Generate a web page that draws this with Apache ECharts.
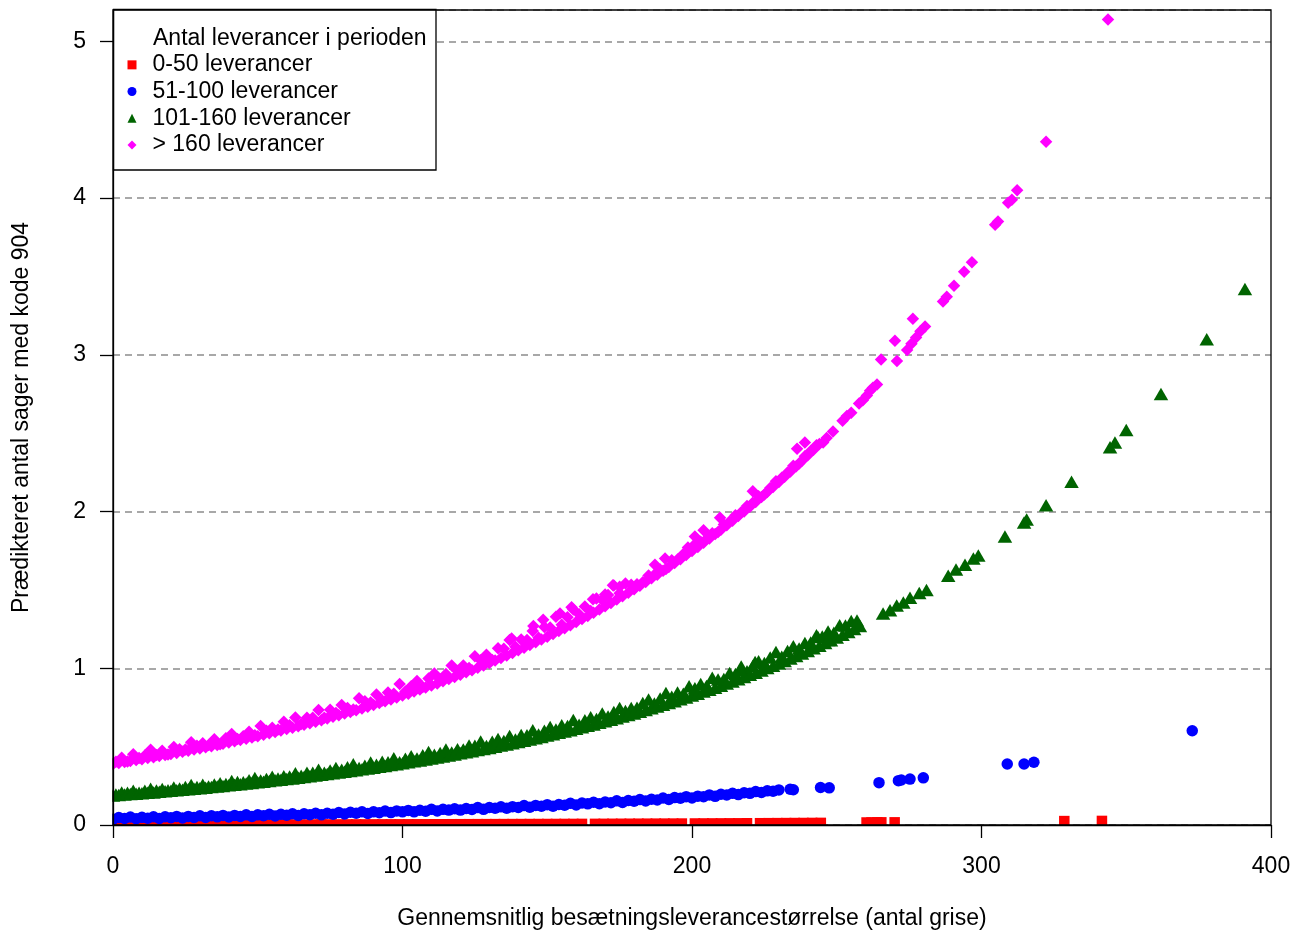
<!DOCTYPE html>
<html>
<head>
<meta charset="utf-8">
<title>Prædikteret antal sager med kode 904</title>
<script src="https://cdn.jsdelivr.net/npm/echarts@6/dist/echarts.min.js"></script>
<style>
  html, body { margin: 0; padding: 0; background: #fff; }
  #chart { width: 1303px; height: 930px; }
</style>
</head>
<body>
<div id="chart"></div>
<script>
// Predicted number of code-904 cases against mean herd delivery size,
// one point per herd, grouped by number of deliveries in the period.

const xTicks = [0, 100, 200, 300, 400];
const yTicks = [0, 1, 2, 3, 4, 5];

const seriesNames = ['0-50 leverancer', '51-100 leverancer', '101-160 leverancer', '> 160 leverancer'];
const legendTitle = 'Antal leverancer i perioden';
const xTitle = 'Gennemsnitlig besætningsleverancestørrelse (antal grise)';
const yTitle = 'Prædikteret antal sager med kode 904';

// 0-50 deliveries: [mean delivery size, predicted cases]
const redBand = [[0,0.0020],[3,0.0020],[6,0.0021],[9,0.0021],[12,0.0022],[15,0.0022],[18,0.0023],[21,0.0024],[24,0.0024],[27,0.0025],[30,0.0025],[33,0.0026],[36,0.0026],[39,0.0027],[42,0.0028],[45,0.0028],[48,0.0029],[51,0.0030],[54,0.0030],[57,0.0031],[60,0.0032],[63,0.0033],[66,0.0034],[69,0.0034],[72,0.0035],[75,0.0036],[78,0.0037],[81,0.0038],[84,0.0038],[87,0.0039],[90,0.0040],[93,0.0041],[96,0.0042],[99,0.0043],[102,0.0044],[105,0.0045],[108,0.0046],[111,0.0048],[114,0.0049],[117,0.0050],[120,0.0051],[123,0.0052],[126,0.0054],[129,0.0055],[132,0.0056],[135,0.0058],[138,0.0059],[141,0.0060],[144,0.0062],[147,0.0063],[150,0.0064],[153,0.0066],[156,0.0068],[159,0.0069],[162,0.0071],[166.5,0.0073],[169.5,0.0075],[172.5,0.0077],[175.5,0.0079],[178.5,0.0081],[181.5,0.0083],[184.5,0.0085],[187.5,0.0087],[190.5,0.0089],[193.5,0.0091],[196.5,0.0093],[201,0.0097],[204,0.0099],[207,0.0101],[210,0.0103],[213,0.0106],[216,0.0108],[219,0.0111],[223.5,0.0114],[226.5,0.0117],[229.5,0.0120],[232.5,0.0123],[235.5,0.0126],[238.5,0.0129],[241.5,0.0132],[244.5,0.0135]];
const redScatter = [[260.3,0.016],[262,0.016],[264,0.017],[265.4,0.017],[270,0.017],[328.6,0.025],[341.6,0.026]];

// 51-100 deliveries
const blueBand = [[0,0.037],[2,0.048],[4,0.042],[6,0.051],[8,0.040],[10,0.049],[12,0.043],[14,0.053],[16,0.042],[18,0.053],[20,0.046],[22,0.055],[24,0.045],[26,0.055],[28,0.048],[30,0.059],[32,0.048],[34,0.059],[36,0.052],[38,0.061],[40,0.051],[42,0.061],[44,0.055],[46,0.065],[48,0.054],[50,0.065],[52,0.059],[54,0.068],[56,0.058],[58,0.068],[60,0.062],[62,0.072],[64,0.061],[66,0.072],[68,0.066],[70,0.075],[72,0.065],[74,0.075],[76,0.069],[78,0.080],[80,0.070],[82,0.081],[84,0.075],[86,0.084],[88,0.074],[90,0.084],[92,0.078],[94,0.089],[96,0.079],[98,0.090],[100,0.084],[102,0.093],[104,0.084],[106,0.094],[108,0.088],[110,0.100],[112,0.089],[114,0.100],[116,0.095],[118,0.104],[120,0.095],[122,0.105],[124,0.099],[126,0.111],[128,0.100],[130,0.112],[132,0.107],[134,0.116],[136,0.107],[138,0.117],[140,0.112],[142,0.124],[144,0.113],[146,0.125],[148,0.120],[150,0.130],[152,0.120],[154,0.131],[156,0.126],[158,0.138],[160,0.128],[162,0.140],[164,0.135],[166,0.145],[168,0.136],[170,0.147],[172,0.142],[174,0.154],[176,0.144],[178,0.156],[180,0.152],[182,0.162],[184,0.153],[186,0.164],[188,0.160],[190,0.172],[192,0.163],[194,0.175],[196,0.171],[198,0.181],[200,0.173],[202,0.184],[204,0.180],[206,0.192],[208,0.183],[210,0.196],[212,0.192],[214,0.202],[216,0.194],[218,0.206],[220,0.202],[222,0.213],[224,0.207],[226,0.218],[228,0.215],[230,0.224]];
const blueScatter = [[233.9,0.228],[235,0.225],[244.4,0.239],[247.4,0.237],[264.6,0.270],[271.3,0.283],[272.3,0.287],[275.3,0.293],[279.9,0.301],[308.9,0.389],[314.7,0.389],[318.1,0.400],[372.8,0.601]];

// 101-160 deliveries
const greenBand = [[0,0.188],[1,0.194],[2,0.191],[3,0.208],[4,0.194],[5,0.206],[6,0.197],[7,0.218],[8,0.199],[9,0.206],[10,0.202],[11,0.219],[12,0.205],[13,0.232],[14,0.208],[15,0.220],[16,0.212],[17,0.229],[18,0.215],[19,0.222],[20,0.218],[21,0.240],[22,0.221],[23,0.233],[24,0.225],[25,0.242],[26,0.228],[27,0.255],[28,0.231],[29,0.243],[30,0.235],[31,0.257],[32,0.238],[33,0.245],[34,0.242],[35,0.259],[36,0.245],[37,0.267],[38,0.249],[39,0.261],[40,0.253],[41,0.280],[42,0.257],[43,0.274],[44,0.260],[45,0.272],[46,0.264],[47,0.286],[48,0.268],[49,0.300],[50,0.272],[51,0.284],[52,0.276],[53,0.293],[54,0.280],[55,0.308],[56,0.285],[57,0.297],[58,0.289],[59,0.311],[60,0.293],[61,0.310],[62,0.297],[63,0.330],[64,0.302],[65,0.314],[66,0.306],[67,0.334],[68,0.311],[69,0.334],[70,0.316],[71,0.353],[72,0.320],[73,0.333],[74,0.325],[75,0.348],[76,0.330],[77,0.363],[78,0.335],[79,0.353],[80,0.340],[81,0.368],[82,0.345],[83,0.388],[84,0.350],[85,0.363],[86,0.355],[87,0.378],[88,0.361],[89,0.399],[90,0.366],[91,0.384],[92,0.371],[93,0.404],[94,0.377],[95,0.400],[96,0.383],[97,0.426],[98,0.388],[99,0.401],[100,0.394],[101,0.422],[102,0.400],[103,0.438],[104,0.406],[105,0.424],[106,0.412],[107,0.445],[108,0.418],[109,0.466],[110,0.424],[111,0.448],[112,0.431],[113,0.459],[114,0.437],[115,0.481],[116,0.444],[117,0.462],[118,0.450],[119,0.484],[120,0.457],[121,0.481],[122,0.464],[123,0.508],[124,0.471],[125,0.505],[126,0.478],[127,0.532],[128,0.485],[129,0.504],[130,0.492],[131,0.531],[132,0.499],[133,0.548],[134,0.507],[135,0.536],[136,0.514],[137,0.568],[138,0.522],[139,0.546],[140,0.530],[141,0.574],[142,0.538],[143,0.572],[144,0.546],[145,0.605],[146,0.554],[147,0.578],[148,0.562],[149,0.602],[150,0.571],[151,0.625],[152,0.579],[153,0.609],[154,0.588],[155,0.637],[156,0.596],[157,0.631],[158,0.605],[159,0.670],[160,0.614],[161,0.639],[162,0.623],[163,0.668],[164,0.633],[165,0.688],[166,0.642],[167,0.677],[168,0.652],[169,0.712],[170,0.662],[171,0.692],[172,0.671],[173,0.721],[174,0.681],[175,0.747],[176,0.692],[177,0.727],[178,0.702],[179,0.747],[180,0.712],[181,0.748],[182,0.723],[183,0.779],[184,0.734],[185,0.800],[186,0.745],[187,0.776],[188,0.756],[189,0.807],[190,0.767],[191,0.843],[192,0.778],[193,0.819],[194,0.790],[195,0.846],[196,0.802],[197,0.838],[198,0.814],[199,0.885],[200,0.826],[201,0.872],[202,0.838],[203,0.900],[204,0.851],[205,0.887],[206,0.863],[207,0.940],[208,0.876],[209,0.928],[210,0.889],[211,0.931],[212,0.903],[213,0.970],[214,0.916],[215,0.963],[216,0.930],[217,1.012],[218,0.944],[219,0.981],[220,0.958],[221,1.015],[222,0.972],[223,1.044],[224,0.986],[225,1.034],[226,1.001],[227,1.069],[228,1.016],[229,1.104],[230,1.031],[231,1.074],[232,1.047],[233,1.110],[234,1.062],[235,1.140],[236,1.078],[237,1.126],[238,1.094],[239,1.162],[240,1.110],[241,1.164],[242,1.127],[243,1.211],[244,1.144],[245,1.203],[246,1.161],[247,1.235],[248,1.178],[249,1.227],[250,1.196],[251,1.275],[252,1.214],[253,1.273],[254,1.232],[255,1.301],[256,1.250],[257,1.305],[258,1.269]];
const greenScatter = [[216.6,0.99],[221.8,1.04],[243.5,1.20],[247,1.18],[266,1.35],[268.4,1.37],[270.7,1.40],[273,1.42],[275.3,1.45],[278.5,1.48],[281,1.50],[288.5,1.59],[291.2,1.63],[294.3,1.66],[297.2,1.70],[298.9,1.72],[308.1,1.84],[314.7,1.93],[315.6,1.95],[322.3,2.04],[331.1,2.19],[344.4,2.41],[346.1,2.44],[350,2.52],[362,2.75],[377.8,3.10],[391,3.42]];

// more than 160 deliveries
const pinkBand = [[0,0.390],[1,0.403],[2,0.396],[3,0.429],[4,0.402],[5,0.405],[6,0.408],[7,0.451],[8,0.414],[9,0.427],[10,0.420],[11,0.444],[12,0.427],[13,0.480],[14,0.433],[15,0.447],[16,0.440],[17,0.473],[18,0.446],[19,0.450],[20,0.453],[21,0.497],[22,0.460],[23,0.484],[24,0.467],[25,0.481],[26,0.474],[27,0.528],[28,0.481],[29,0.505],[30,0.488],[31,0.522],[32,0.496],[33,0.510],[34,0.503],[35,0.547],[36,0.511],[37,0.515],[38,0.519],[39,0.553],[40,0.526],[41,0.580],[42,0.534],[43,0.548],[44,0.542],[45,0.567],[46,0.551],[47,0.595],[48,0.559],[49,0.573],[50,0.567],[51,0.632],[52,0.576],[53,0.601],[54,0.585],[55,0.620],[56,0.594],[57,0.609],[58,0.603],[59,0.658],[60,0.612],[61,0.637],[62,0.621],[63,0.686],[64,0.630],[65,0.645],[66,0.640],[67,0.685],[68,0.649],[69,0.684],[70,0.659],[71,0.734],[72,0.669],[73,0.684],[74,0.679],[75,0.735],[76,0.690],[77,0.715],[78,0.700],[79,0.766],[80,0.711],[81,0.746],[82,0.721],[83,0.737],[84,0.732],[85,0.808],[86,0.743],[87,0.789],[88,0.755],[89,0.781],[90,0.766],[91,0.832],[92,0.778],[93,0.794],[94,0.789],[95,0.845],[96,0.801],[97,0.838],[98,0.814],[99,0.900],[100,0.826],[101,0.852],[102,0.838],[103,0.885],[104,0.851],[105,0.918],[106,0.864],[107,0.881],[108,0.877],[109,0.934],[110,0.890],[111,0.967],[112,0.903],[113,0.930],[114,0.917],[115,0.964],[116,0.931],[117,1.018],[118,0.945],[119,0.982],[120,0.959],[121,1.017],[122,0.974],[123,1.001],[124,0.988],[125,1.076],[126,1.003],[127,1.051],[128,1.018],[129,1.086],[130,1.034],[131,1.052],[132,1.050],[133,1.128],[134,1.065],[135,1.124],[136,1.082],[137,1.180],[138,1.098],[139,1.137],[140,1.115],[141,1.183],[142,1.131],[143,1.180],[144,1.149],[145,1.238],[146,1.166],[147,1.195],[148,1.184],[149,1.263],[150,1.201],[151,1.260],[152,1.219],[153,1.329],[154,1.238],[155,1.277],[156,1.256],[157,1.326],[158,1.275],[159,1.375],[160,1.295],[161,1.345],[162,1.314],[163,1.394],[164,1.334],[165,1.365],[166,1.355],[167,1.445],[168,1.375],[169,1.436],[170,1.396],[171,1.467],[172,1.417],[173,1.528],[174,1.438],[175,1.479],[176,1.460],[177,1.541],[178,1.482],[179,1.533],[180,1.504],[181,1.536],[182,1.527],[183,1.549],[184,1.550],[185,1.592],[186,1.574],[187,1.596],[188,1.597],[189,1.630],[190,1.622],[191,1.634],[192,1.646],[193,1.689],[194,1.671],[195,1.694],[196,1.696],[197,1.729],[198,1.722],[199,1.745],[200,1.748],[201,1.791],[202,1.774],[203,1.808],[204,1.801],[205,1.825],[206,1.828],[207,1.862],[208,1.856],[209,1.870],[210,1.884],[211,1.918],[212,1.912],[213,1.937],[214,1.941],[215,1.976],[216,1.971],[217,1.996],[218,2.000],[219,2.036],[220,2.031],[221,2.056],[222,2.061],[223,2.097],[224,2.092],[225,2.108],[226,2.124],[227,2.150],[228,2.156],[229,2.193],[230,2.189],[231,2.216],[232,2.222],[233,2.249],[234,2.255],[235,2.292],[236,2.289],[237,2.307],[238,2.324],[239,2.352],[240,2.359],[241,2.387],[242,2.395],[243,2.423],[244,2.431]];
const pinkScatter = [[137.7,1.19],[145.2,1.27],[148.6,1.31],[154.4,1.35],[158.4,1.39],[165.8,1.44],[170,1.47],[172.7,1.53],[175,1.52],[187.2,1.66],[190.7,1.70],[198.6,1.77],[201,1.84],[204,1.88],[209.7,1.96],[221,2.13],[236.3,2.40],[239,2.44],[245.3,2.44],[246.5,2.47],[248.7,2.51],[252,2.58],[253.5,2.61],[255,2.63],[257.7,2.69],[259,2.71],[260.4,2.74],[261.5,2.77],[262.5,2.79],[263.9,2.81],[265.3,2.97],[270.1,3.09],[270.8,2.96],[274.3,3.03],[275.8,3.07],[276.3,3.23],[277.4,3.11],[278.9,3.15],[280.5,3.18],[286.7,3.34],[288,3.37],[290.5,3.44],[294,3.53],[296.7,3.59],[304.7,3.83],[305.7,3.85],[309.2,3.97],[310.5,3.99],[312.3,4.05],[322.3,4.36],[343.7,5.14]];

const FONT = '"Liberation Sans", Arial, Helvetica, sans-serif';
const FS = 23;

// plot box in pixels
const G = { left: 113, top: 10, right: 1271, bottom: 825 };

const chart = echarts.init(document.getElementById('chart'), null, { renderer: 'canvas' });

function pointSeries(name, data, symbol, size, color) {
  return {
    name: name,
    type: 'scatter',
    data: data,
    symbol: symbol,
    symbolSize: size,
    itemStyle: { color: color, opacity: 1, borderWidth: 0 },
    emphasis: { disabled: true },
    progressive: 0,
    large: false,
    z: 2,
    xAxisIndex: 0,
    yAxisIndex: 0
  };
}

const white = { fill: '#ffffff' };

chart.setOption({
  animation: false,
  backgroundColor: '#ffffff',
  textStyle: { fontFamily: FONT, color: '#000' },
  grid: {
    left: G.left, top: G.top, right: 1303 - G.right, bottom: 930 - G.bottom,
    containLabel: false, outerBoundsMode: 'none',
    show: true, borderColor: '#000', borderWidth: 1.3, backgroundColor: 'transparent',
    z: 10
  },
  xAxis: {
    type: 'value', min: xTicks[0], max: xTicks[xTicks.length - 1], interval: 100,
    position: 'bottom', z: 10,
    axisLine: { show: true, onZero: false, lineStyle: { color: '#000', width: 1.3 } },
    axisTick: { show: true, inside: false, length: 13, lineStyle: { color: '#000', width: 1.3 } },
    axisLabel: { show: true, margin: 30, fontSize: FS, fontFamily: FONT, color: '#000' },
    splitLine: { show: false },
    name: xTitle, nameLocation: 'middle', nameGap: 82,
    nameTextStyle: { fontSize: FS, fontFamily: FONT, color: '#000' }
  },
  yAxis: [
    {
      // dashed reference lines, drawn beneath the points
      type: 'value', min: 0, max: 5.2, interval: 1, position: 'left', z: 0,
      axisLine: { show: false }, axisTick: { show: false }, axisLabel: { show: false },
      splitLine: { show: true, lineStyle: { color: '#8c8c8c', width: 1.5, type: [7, 5] } }
    },
    {
      type: 'value', min: 0, max: 5.2, interval: 1, position: 'left', offset: 0, z: 10,
      axisLine: { show: true, onZero: false, lineStyle: { color: '#000', width: 1.3 } },
      axisTick: { show: true, inside: false, length: 13, customValues: yTicks, lineStyle: { color: '#000', width: 1.3 } },
      axisLabel: { show: true, margin: 27, customValues: yTicks, fontSize: FS, fontFamily: FONT, color: '#000' },
      splitLine: { show: false },
      name: yTitle, nameLocation: 'middle', nameGap: 80,
      nameTextStyle: { fontSize: FS, fontFamily: FONT, color: '#000' }
    }
  ],
  legend: {
    orient: 'vertical', left: 127.5, top: 51.5, padding: 0, itemGap: 0,
    itemWidth: 9, itemHeight: 9, selectedMode: false, z: 7,
    data: seriesNames,
    textStyle: { fontSize: FS, fontFamily: FONT, color: '#000', lineHeight: 26.7, padding: [0, 0, 0, 11] }
  },
  graphic: [
    // keep marks inside the plot box
    { type: 'rect', silent: true, z: 3, shape: { x: 0, y: G.bottom + 0.7, width: 1303, height: 930 - G.bottom }, style: white },
    { type: 'rect', silent: true, z: 3, shape: { x: 0, y: 0, width: G.left - 0.7, height: 930 }, style: white },
    { type: 'rect', silent: true, z: 3, shape: { x: 0, y: 0, width: 1303, height: G.top - 0.7 }, style: white },
    { type: 'rect', silent: true, z: 3, shape: { x: G.right + 0.7, y: 0, width: 1303 - G.right, height: 930 }, style: white },
    // legend frame and heading
    { type: 'rect', silent: true, z: 5, shape: { x: 113.5, y: 9.5, width: 322.5, height: 160.5 },
      style: { fill: '#ffffff', stroke: '#000', lineWidth: 1.3 } },
    { type: 'text', silent: true, z: 7, x: 153, y: 38.5,
      style: { text: legendTitle, fontSize: FS, fontFamily: FONT, fill: '#000', verticalAlign: 'middle', align: 'left' } }
  ],
  series: [
    pointSeries(seriesNames[0], redBand.concat(redScatter), 'rect', 10.5, '#ff0000'),
    pointSeries(seriesNames[1], blueBand.concat(blueScatter), 'circle', 11.5, '#0000ff'),
    pointSeries(seriesNames[2], greenBand.concat(greenScatter), 'triangle', [14.5, 12.5], '#006400'),
    pointSeries(seriesNames[3], pinkBand.concat(pinkScatter), 'diamond', 12.5, '#ff00ff')
  ]
});
</script>
</body>
</html>
